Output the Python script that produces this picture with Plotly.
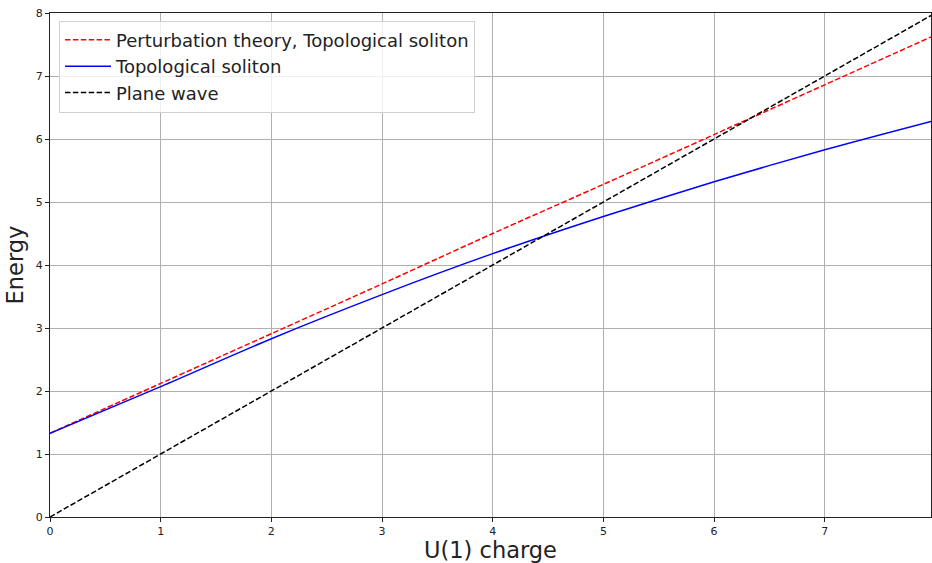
import plotly.graph_objects as go

# Data
charge = [0, 1, 2, 3, 4, 5, 6, 7, 7.96]
perturbation_energy = [1.33, 2.12, 2.91, 3.70, 4.50, 5.28, 6.07, 6.86, 7.62]
soliton_energy = [1.33, 2.07, 2.83, 3.53, 4.18, 4.77, 5.32, 5.83, 6.28]
plane_wave_energy = [0, 1, 2, 3, 4, 5, 6, 7, 7.96]

x_ticks = [0, 1, 2, 3, 4, 5, 6, 7]
y_ticks = [0, 1, 2, 3, 4, 5, 6, 7, 8]

FONT = "DejaVu Sans"

fig = go.Figure()
fig.add_trace(go.Scatter(
    x=charge, y=perturbation_energy, mode="lines",
    name="Perturbation theory, Topological soliton",
    line=dict(color="red", width=1.5, dash="5.5px,2.4px", shape="spline", smoothing=0.6),
))
fig.add_trace(go.Scatter(
    x=charge, y=soliton_energy, mode="lines",
    name="Topological soliton",
    line=dict(color="blue", width=1.5, shape="spline", smoothing=0.8),
))
fig.add_trace(go.Scatter(
    x=charge, y=plane_wave_energy, mode="lines",
    name="Plane wave",
    line=dict(color="black", width=1.5, dash="5.5px,2.4px"),
))

axis_common = dict(
    showgrid=True, gridcolor="#b0b0b0", gridwidth=1,
    showline=True, linecolor="#222222", linewidth=1, mirror=True,
    ticks="outside", ticklen=4, tickcolor="#222222",
    tickfont=dict(family=FONT, size=11, color="#222222"),
    zeroline=False,
)

fig.update_layout(
    width=932, height=563,
    margin=dict(l=50, r=1, t=13, b=46),
    paper_bgcolor="white", plot_bgcolor="white",
    font=dict(family=FONT, color="#222222"),
    xaxis=dict(
        range=[0, 7.96], tickvals=x_ticks,
        title=dict(text="U(1) charge", font=dict(family=FONT, size=22.5, color="#222222"), standoff=6),
        **axis_common,
    ),
    yaxis=dict(
        range=[0, 8], tickvals=y_ticks,
        title=dict(text="Energy", font=dict(family=FONT, size=22.5, color="#222222"), standoff=5),
        **axis_common,
    ),
    legend=dict(
        x=0.0102, y=0.985, xanchor="left", yanchor="top",
        bgcolor="rgba(255,255,255,0.8)", bordercolor="#d0d0d0", borderwidth=1,
        font=dict(family=FONT, size=18, color="#222222"),
        tracegroupgap=0, itemwidth=46,
    ),
    showlegend=True,
)

fig.write_html(
    "out.html",
    config={"displayModeBar": False},
    post_script="document.body.style.margin='0';document.body.style.overflow='hidden';",
)
